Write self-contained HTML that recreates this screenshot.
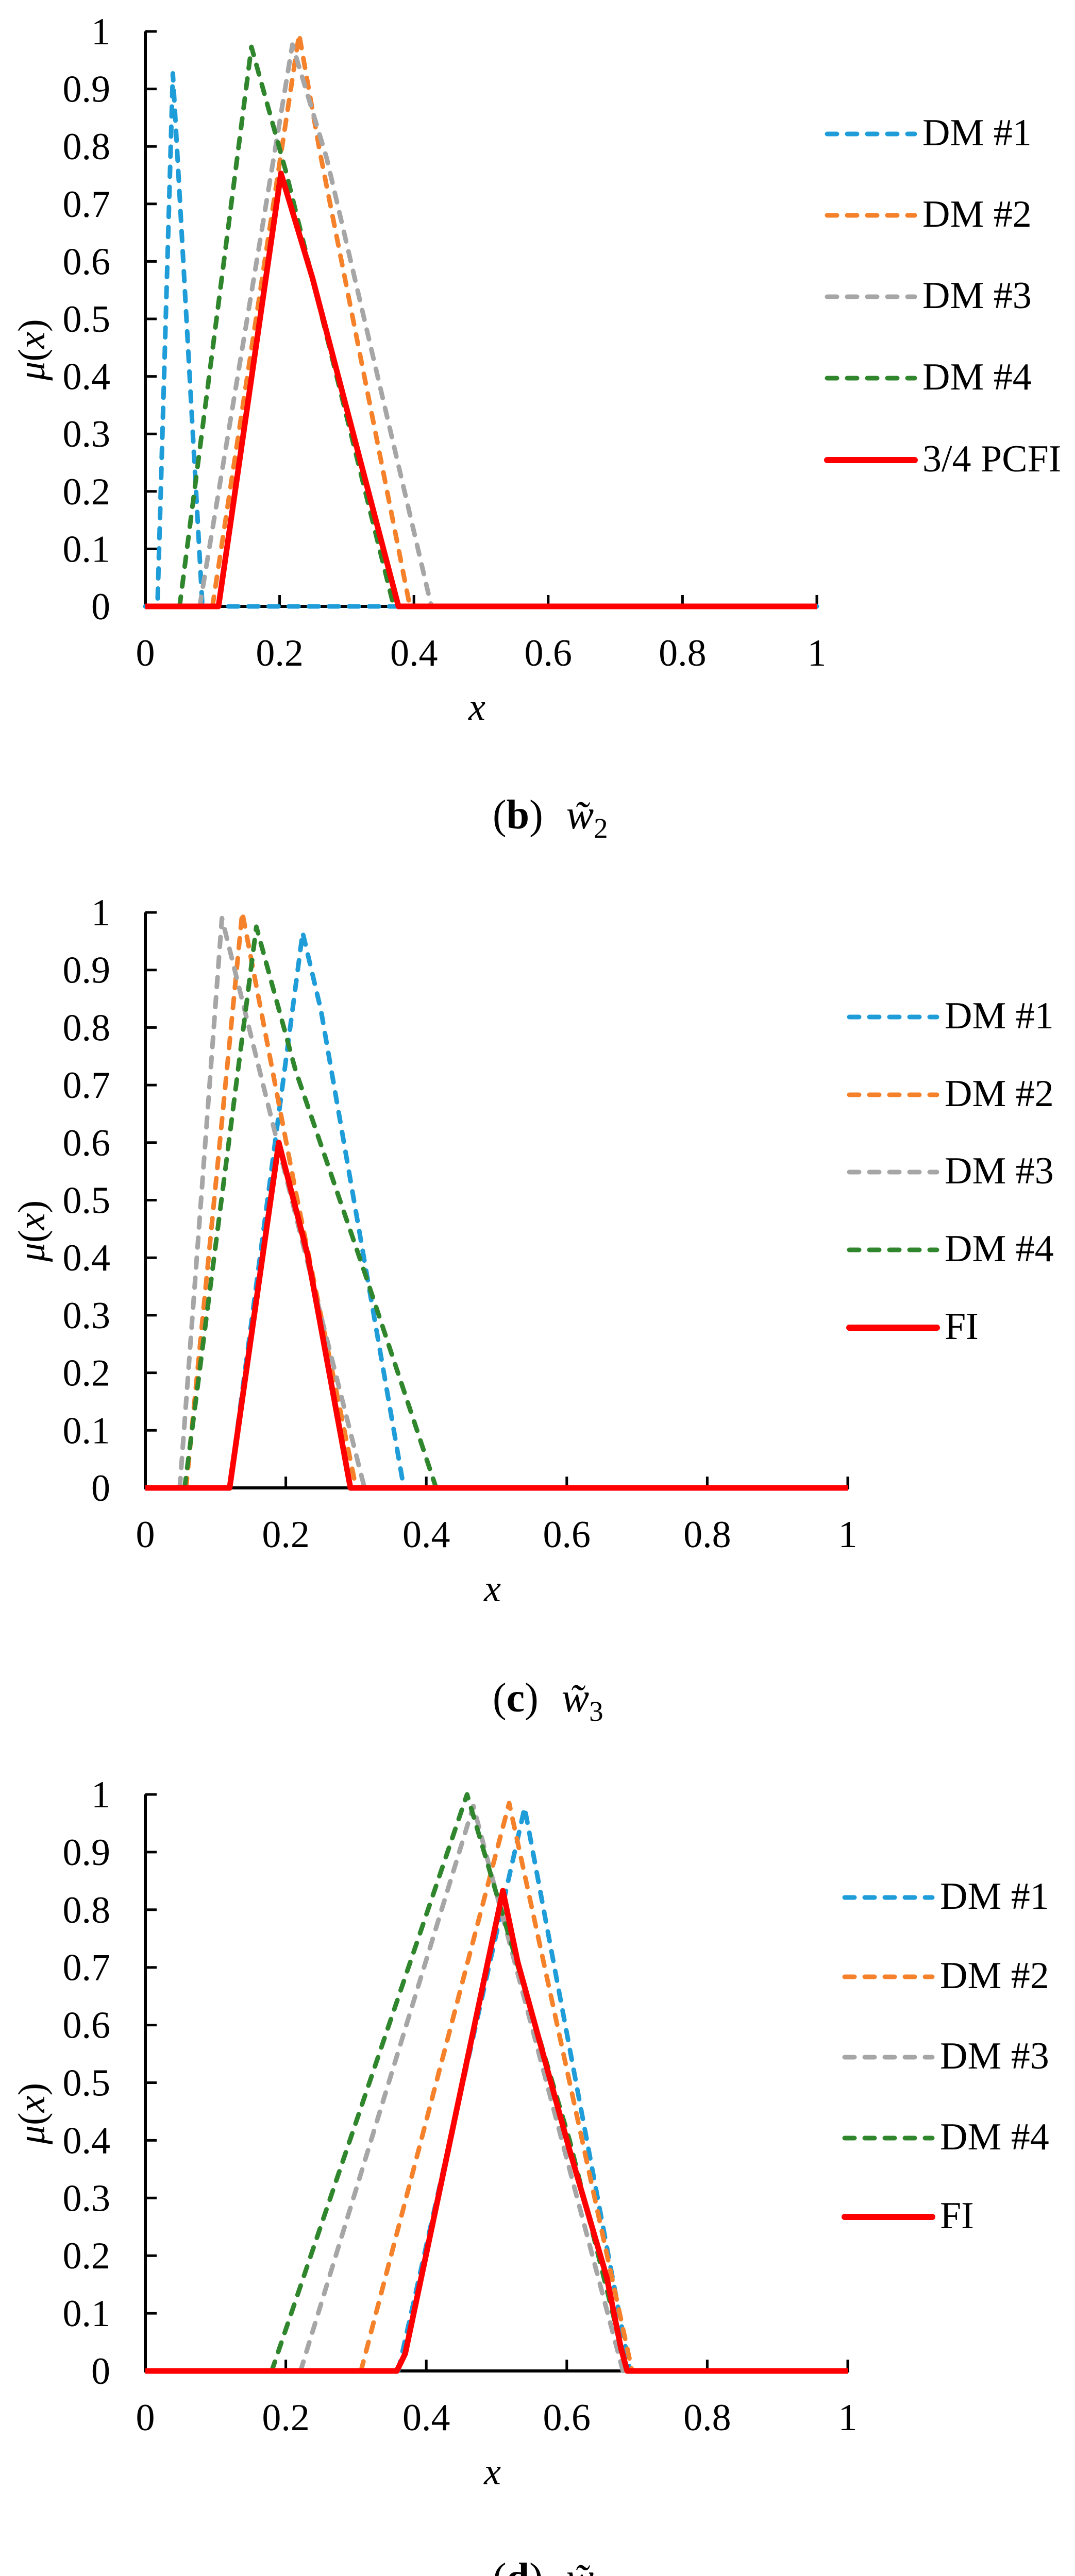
<!DOCTYPE html>
<html><head><meta charset="utf-8">
<style>
html,body{margin:0;padding:0;background:#fff;width:2086px;height:5069px;overflow:hidden;}
svg{display:block;}
text{font-family:"Liberation Serif","DejaVu Serif",serif;fill:#000;}
</style></head>
<body>
<svg id="fig" width="2086" height="5069" viewBox="0 0 2086 5069" xmlns="http://www.w3.org/2000/svg" overflow="hidden"></svg>
<script>
// ---- data arrays (x values and membership values) ----
const xTicks = [0, 0.2, 0.4, 0.6, 0.8, 1];
const xTickLabels = ["0", "0.2", "0.4", "0.6", "0.8", "1"];
const yTicks = [0, 0.1, 0.2, 0.3, 0.4, 0.5, 0.6, 0.7, 0.8, 0.9, 1];
const yTickLabels = ["0", "0.1", "0.2", "0.3", "0.4", "0.5", "0.6", "0.7", "0.8", "0.9", "1"];
const seriesNames = ["DM #1", "DM #2", "DM #3", "DM #4"];

// chart b
const b_dm1_x = [0, 0.018, 0.041, 0.085, 1];
const b_dm1_y = [0, 0, 0.927, 0, 0];
const b_dm2_x = [0.10, 0.229, 0.26, 0.394];
const b_dm2_y = [0, 0.995, 0.79, 0];
const b_dm3_x = [0.081, 0.219, 0.27, 0.426];
const b_dm3_y = [0, 0.977, 0.78, 0];
const b_dm4_x = [0.051, 0.158, 0.209, 0.37];
const b_dm4_y = [0, 0.973, 0.758, 0];
const b_fi_x = [0, 0.109, 0.202, 0.249, 0.377, 1];
const b_fi_y = [0, 0, 0.753, 0.571, 0, 0];
const b_fiName = "3/4 PCFI";

// chart c
const c_dm1_x = [0.12, 0.224, 0.25, 0.368];
const c_dm1_y = [0, 0.965, 0.83, 0];
const c_dm2_x = [0.058, 0.138, 0.214, 0.30];
const c_dm2_y = [0, 1.0, 0.515, 0];
const c_dm3_x = [0.049, 0.109, 0.185, 0.253, 0.312];
const c_dm3_y = [0, 0.99, 0.615, 0.285, 0];
const c_dm4_x = [0.056, 0.158, 0.214, 0.312, 0.414];
const c_dm4_y = [0, 0.975, 0.725, 0.375, 0];
const c_fi_x = [0, 0.12, 0.19, 0.231, 0.292, 1];
const c_fi_y = [0, 0, 0.6, 0.405, 0, 0];
const c_fiName = "FI";

// chart d
const d_dm1_x = [0.36, 0.54, 0.69];
const d_dm1_y = [0, 0.977, 0];
const d_dm2_x = [0.307, 0.518, 0.693];
const d_dm2_y = [0, 0.985, 0];
const d_dm3_x = [0.221, 0.467, 0.68];
const d_dm3_y = [0, 0.98, 0];
const d_dm4_x = [0.18, 0.458, 0.604, 0.686];
const d_dm4_y = [0, 1.0, 0.4, 0];
const d_fi_x = [0, 0.358, 0.37, 0.509, 0.53, 0.604, 0.657, 0.677, 0.686, 1];
const d_fi_y = [0, 0, 0.03, 0.833, 0.71, 0.383, 0.162, 0.04, 0, 0];
const d_fiName = "FI";

// ---- layout ----
const NS = "http://www.w3.org/2000/svg";
const svg = document.getElementById("fig");
const colors = ["#1f9dd9", "#f5822a", "#a6a6a6", "#2f862c"];

function mk(tag, attrs, parent) {
  const e = document.createElementNS(NS, tag);
  for (const k in attrs) e.setAttribute(k, attrs[k]);
  parent.appendChild(e);
  return e;
}

function drawChart(id, L, sx, sy, fiName, capLetter, capSub) {
  const g = mk("g", {}, svg);
  
  
  const X = v => L.x0 + v * (L.x1 - L.x0);
  const Y = v => L.y0 - v * (L.y0 - L.y1);
  const ya = mk("line", {x1: X(0), y1: Y(0), x2: X(0), y2: Y(1), stroke: "#000", "stroke-width": 6}, g);
  
  
  const xa = mk("line", {x1: X(0) - 3, y1: Y(0), x2: X(1) + 3, y2: Y(0), stroke: "#000", "stroke-width": 6}, g);
  
  
  yTicks.forEach((t, i) => {
    const tk = mk("line", {x1: X(0), y1: Y(t), x2: X(0) + 22, y2: Y(t), stroke: "#000", "stroke-width": 5}, g);
    
    
    const tx = mk("text", {x: X(0) - 68, y: Y(t) + 25, "font-size": 74, "text-anchor": "end"}, g);
    tx.textContent = yTickLabels[i];
    
    
  });
  xTicks.forEach((t, i) => {
    const tk = mk("line", {x1: X(t), y1: Y(0), x2: X(t), y2: Y(0) - 22, stroke: "#000", "stroke-width": 5}, g);
    
    
    const tx = mk("text", {x: X(t), y: L.y0 + 115, "font-size": 74, "text-anchor": "middle"}, g);
    tx.textContent = xTickLabels[i];
    
    
  });
  const xt = mk("text", {x: (L.x0 + L.x1) / 2 - 8, y: L.y0 + 220, "font-size": 74, "font-style": "italic", "text-anchor": "middle"}, g);
  xt.textContent = "x";
  
  
  const ymid = (L.y0 + L.y1) / 2 + 60;
  const yt = mk("text", {x: 0, y: 0, "font-size": 74, "text-anchor": "middle", transform: "translate(86," + ymid + ") rotate(-90)"}, g);
  yt.innerHTML = '<tspan font-style="italic">μ</tspan>(<tspan font-style="italic">x</tspan>)';
  
  
  const pts = (xs, ys) => xs.map((x, i) => X(x).toFixed(1) + "," + Y(ys[i]).toFixed(1)).join(" ");
  sx.forEach((xs, si) => {
    const p = mk("polyline", {points: pts(xs, sy[si]), fill: "none", stroke: colors[si], "stroke-width": 9, "stroke-dasharray": "19 20", "stroke-linecap": "round", "stroke-linejoin": "round"}, g);
    
    
  });
  const fi = mk("polyline", {points: pts(L.fx, L.fy), fill: "none", stroke: "#ff0000", "stroke-width": 11, "stroke-linejoin": "round"}, g);
  
  
  const names = seriesNames.concat([fiName]);
  names.forEach((n, i) => {
    const ly = L.legY[i];
    const ln = mk("line", {x1: L.legX, y1: ly, x2: L.legX + 170, y2: ly, stroke: i < 4 ? colors[i] : "#ff0000", "stroke-width": i < 4 ? 9 : 12, "stroke-dasharray": i < 4 ? "19 20" : "none", "stroke-linecap": "round"}, g);
    
    
    const t = mk("text", {x: L.legX + 185, y: ly + 22, "font-size": 74}, g);
    t.textContent = n;
    
    
  });
  const cap = mk("text", {x: 956, y: L.capY, "font-size": 80}, g);
  cap.innerHTML = '(<tspan font-weight="bold">' + capLetter + '</tspan>)<tspan dx="45" font-style="italic">w̃</tspan><tspan font-size="55" dy="18">' + capSub + '</tspan>';
  
  
}

drawChart("b", {x0: 282, x1: 1585, y0: 1177, y1: 61, legX: 1605, legY: [260, 418, 576, 734, 893], capY: 1608, fx: b_fi_x, fy: b_fi_y},
  [b_dm1_x, b_dm2_x, b_dm3_x, b_dm4_x], [b_dm1_y, b_dm2_y, b_dm3_y, b_dm4_y], b_fiName, "b", "2");
drawChart("c", {x0: 282, x1: 1645, y0: 2888, y1: 1771, legX: 1648, legY: [1974, 2125, 2275, 2426, 2577], capY: 3322, fx: c_fi_x, fy: c_fi_y},
  [c_dm1_x, c_dm2_x, c_dm3_x, c_dm4_x], [c_dm1_y, c_dm2_y, c_dm3_y, c_dm4_y], c_fiName, "c", "3");
drawChart("d", {x0: 282, x1: 1645, y0: 4602, y1: 3483, legX: 1639, legY: [3683, 3837, 3993, 4150, 4303], capY: 5030, fx: d_fi_x, fy: d_fi_y},
  [d_dm1_x, d_dm2_x, d_dm3_x, d_dm4_x], [d_dm1_y, d_dm2_y, d_dm3_y, d_dm4_y], d_fiName, "d", "4");
</script>
</body></html>
